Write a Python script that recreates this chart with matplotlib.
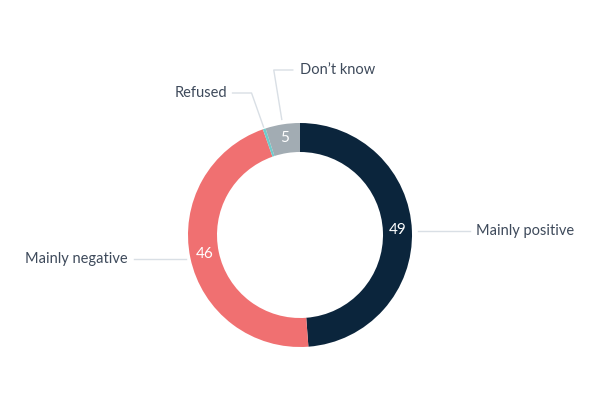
import numpy as np
import matplotlib.pyplot as plt

categories = ["Mainly positive", "Mainly negative", "Refused", "Don\u2019t know"]
values = [49, 46, 0.4, 5]
shown = ["49", "46", "", "5"]
colors = ["#0b253c", "#f07071", "#6fcbcb", "#a2acb3"]

TEXT = "#3e4a5b"
LINE = "#d9dfe5"

fig = plt.figure(figsize=(6, 4), dpi=100)
ax = fig.add_axes([0, 0, 1, 1])

cx, cy, r, w = 300, 165, 112, 29
wedges, _ = ax.pie(values, colors=colors, startangle=90, counterclock=False,
                   center=(cx, cy), radius=r, frame=True,
                   wedgeprops=dict(width=w, linewidth=0))
ax.set_xlim(0, 600)
ax.set_ylim(0, 400)
ax.set_aspect("equal")
ax.axis("off")

font = ["Lato", "DejaVu Sans"]

# values inside the ring
for wd, s in zip(wedges, shown):
    if not s:
        continue
    a = np.deg2rad((wd.theta1 + wd.theta2) / 2)
    rm = r - w / 2
    ax.text(cx + rm * np.cos(a), cy + rm * np.sin(a) + 1, s, color="white",
            fontsize=11, ha="center", va="center", family=font)

# leader lines and category labels
mids = [np.deg2rad((wd.theta1 + wd.theta2) / 2) for wd in wedges]

def anchor(i, rr):
    return cx + rr * np.cos(mids[i]), cy + rr * np.sin(mids[i])

# Mainly positive
x0, y0 = anchor(0, r + 6)
ax.plot([x0, x0 + 52], [y0, y0], color=LINE, lw=1)
ax.text(x0 + 58, y0, categories[0], color=TEXT, fontsize=10.5,
        ha="left", va="center", family=font)

# Mainly negative
x0, y0 = anchor(1, r + 4)
ax.plot([x0, x0 - 52], [y0, y0], color=LINE, lw=1)
ax.text(x0 - 59, y0, categories[1], color=TEXT, fontsize=10.5,
        ha="right", va="center", family=font)

# Refused
x0, y0 = anchor(2, r + 2)
ex, ey = x0 - 12, 307
ax.plot([x0, ex, ex - 19], [y0, ey, ey], color=LINE, lw=1)
ax.text(ex - 24, ey, categories[2], color=TEXT, fontsize=10.5,
        ha="right", va="center", family=font)

# Don't know
x0, y0 = anchor(3, r + 5)
ex, ey = x0 - 8, 330
ax.plot([x0, ex, ex + 19], [y0, ey, ey], color=LINE, lw=1)
ax.text(ex + 26, ey, categories[3], color=TEXT, fontsize=10.5,
        ha="left", va="center", family=font)

fig.savefig("out.png", dpi=100)
